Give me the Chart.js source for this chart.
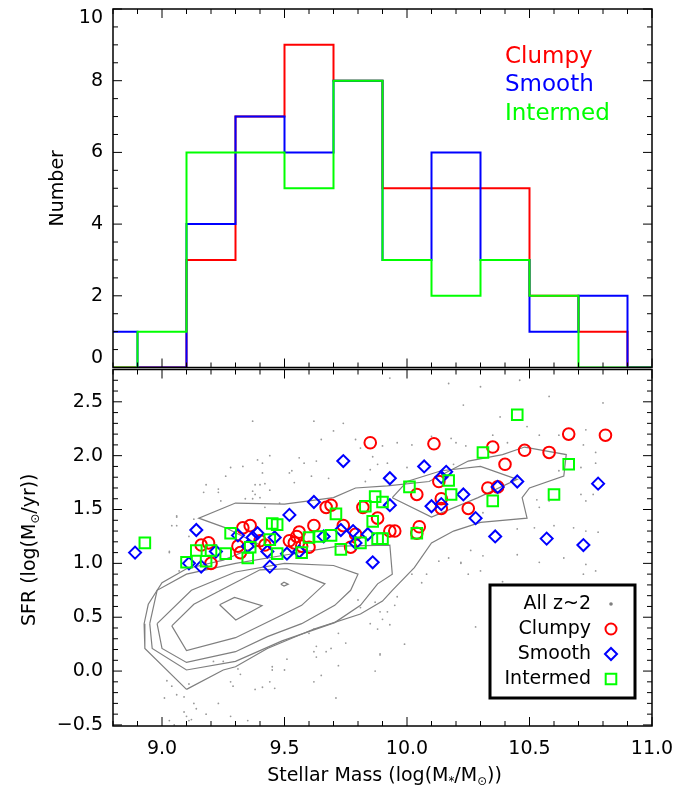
<!DOCTYPE html>
<html>
<head>
<meta charset="utf-8">
<script src="https://cdn.jsdelivr.net/npm/chart.js@4.4.1/dist/chart.umd.min.js"></script>
<style>
  body { margin: 0; background: #fff; }
  #wrap { position: relative; width: 691px; height: 790px; }
  canvas { position: absolute; left: 0; }
  #topChart { top: 0; }
  #botChart { top: 360px; }
</style>
</head>
<body>
<div id="wrap">
  <canvas id="topChart" width="691" height="376"></canvas>
  <canvas id="botChart" width="691" height="430"></canvas>
</div>
<script>
var FONT = '"DejaVu Sans", sans-serif';
var RED = '#ff0000', BLUE = '#0000ff', GREEN = '#00ff00', GREY = '#7f7f7f';

// ---- histogram (top panel) ----
var binEdges = [8.7, 8.9, 9.1, 9.3, 9.5, 9.7, 9.9, 10.1, 10.3, 10.5, 10.7, 10.9, 11.1];
var clumpyCounts   = [0, 0, 3, 7, 9, 8, 5, 5, 5, 2, 1, 0];
var smoothCounts   = [1, 0, 4, 7, 6, 8, 3, 6, 3, 1, 2, 0];
var intermedCounts = [0, 1, 6, 6, 5, 8, 3, 2, 3, 2, 0, 0];
var countTicks = [0, 2, 4, 6, 8, 10];

// ---- SFR vs mass (bottom panel) ----
var massTicks = [9.0, 9.5, 10.0, 10.5, 11.0];
var sfrTicks = [-0.5, 0.0, 0.5, 1.0, 1.5, 2.0, 2.5];

var clumpyPts = [
  [9.16,1.17],[9.19,1.19],[9.20,1.00],[9.31,1.16],[9.32,1.10],[9.33,1.33],[9.36,1.35],
  [9.40,1.21],[9.42,1.17],[9.52,1.21],[9.54,1.19],[9.55,1.25],[9.56,1.29],[9.57,1.16],
  [9.60,1.15],[9.62,1.35],[9.67,1.52],[9.69,1.54],[9.74,1.35],[9.77,1.15],[9.79,1.27],
  [9.82,1.52],[9.85,2.12],[9.88,1.42],[9.93,1.30],[9.95,1.30],[10.04,1.64],[10.05,1.34],
  [10.04,1.28],[10.11,2.11],[10.13,1.76],[10.14,1.60],[10.14,1.51],[10.25,1.51],
  [10.33,1.70],[10.37,1.71],[10.35,2.08],[10.40,1.92],[10.48,2.05],[10.58,2.03],
  [10.66,2.20],[10.81,2.19]
];
var smoothPts = [
  [8.89,1.10],[9.14,1.31],[9.11,1.00],[9.16,0.97],[9.22,1.11],[9.31,1.26],[9.35,1.16],
  [9.37,1.24],[9.39,1.28],[9.43,1.11],[9.44,0.97],[9.46,1.24],[9.52,1.45],[9.51,1.09],
  [9.56,1.11],[9.62,1.57],[9.66,1.25],[9.74,1.95],[9.73,1.31],[9.78,1.30],[9.79,1.19],
  [9.84,1.27],[9.86,1.01],[9.93,1.79],[9.93,1.54],[10.07,1.90],[10.14,1.80],[10.16,1.85],
  [10.23,1.64],[10.10,1.53],[10.14,1.55],[10.28,1.42],[10.37,1.71],[10.45,1.76],
  [10.78,1.74],[10.36,1.25],[10.57,1.23],[10.72,1.17]
];
var intermedPts = [
  [8.93,1.19],[9.10,1.01],[9.14,1.12],[9.18,1.02],[9.20,1.12],[9.26,1.09],[9.28,1.28],
  [9.35,1.05],[9.36,1.15],[9.45,1.37],[9.47,1.36],[9.44,1.22],[9.47,1.09],[9.57,1.10],
  [9.60,1.24],[9.64,1.25],[9.69,1.26],[9.71,1.46],[9.73,1.13],[9.81,1.19],[9.83,1.53],
  [9.86,1.39],[9.87,1.62],[9.90,1.57],[9.88,1.23],[9.90,1.23],[10.01,1.71],[10.04,1.28],
  [10.17,1.77],[10.18,1.64],[10.31,2.03],[10.35,1.58],[10.45,2.38],[10.60,1.64],[10.66,1.92]
];
var allPts = [
  [9.02,-0.09],[9.04,-0.14],[9.01,-0.25],[9.06,-0.22],[9.09,-0.24],[9.11,-0.12],[9.13,-0.30],
  [9.14,-0.35],[9.09,-0.38],[9.03,-0.46],[9.11,-0.46],[9.23,-0.30],[9.28,-0.42],[9.35,-0.46],
  [9.28,-0.10],[9.29,-0.14],[9.32,-0.03],[9.31,0.02],[9.21,0.09],[9.25,0.09],[9.38,-0.17],
  [9.41,-0.15],[9.46,-0.16],[9.44,-0.10],[9.45,0.01],[9.45,0.04],[9.50,0.01],[9.51,0.11],
  [9.62,-0.10],[9.65,-0.04],[9.63,0.23],[9.62,0.18],[9.63,0.13],[9.67,0.18],[9.69,0.21],
  [9.72,0.05],[9.71,-0.25],[9.75,0.26],[9.72,0.35],[9.60,0.35],[9.62,0.39],[9.85,0.44],
  [9.88,0.39],[9.93,0.43],[9.87,0.00],[9.89,0.15],[9.89,0.55],[9.92,0.55],[9.95,0.61],
  [9.96,0.69],[9.80,0.66],[9.81,0.59],[9.87,0.64],
  [9.44,2.00],[9.39,1.96],[9.41,1.93],[9.41,1.84],[9.38,1.73],[9.40,1.73],[9.42,1.74],
  [9.44,1.68],[9.37,1.67],[9.38,1.64],[9.26,1.81],[9.28,1.89],[9.17,1.66],[9.23,1.66],
  [9.24,1.58],[9.34,1.60],[9.37,1.60],[9.40,1.61],[9.42,1.52],[9.48,1.56],[9.52,1.84],
  [9.06,1.44],[9.04,1.35],[9.06,1.35],[9.03,1.11],[9.11,1.25],[9.13,1.41],[9.07,0.93],
  [10.23,2.47],[10.10,2.18],[10.18,2.16],[10.20,2.12],[10.24,2.09],[9.96,2.12],[10.02,2.10],
  [9.90,2.09],[9.81,2.07],[9.65,2.15],[9.79,2.15],[9.74,2.30],[9.70,2.23],[9.63,1.95],
  [9.58,1.93],[9.53,1.86],[9.54,1.75],[9.86,1.99],[9.88,1.92],[9.92,1.93],[10.00,1.89],
  [9.85,1.87],[9.83,1.76],[9.68,1.79],[9.61,1.81],[10.19,1.92],[10.13,1.02],[10.17,1.05],
  [10.22,1.00],[10.25,0.90],[10.08,0.90],[10.02,0.90],[10.06,0.82],
  [10.38,2.36],[10.49,2.27],[10.35,2.19],[10.41,2.12],[10.54,2.19],[10.62,2.19],[10.73,2.24],
  [10.72,2.10],[10.77,2.03],[10.77,1.93],[10.71,1.89],[10.62,1.86],[10.76,1.64],[10.71,1.64],
  [10.73,1.58],[10.58,1.58],[10.53,1.59],[10.54,1.52],[10.38,1.66],[10.31,1.47],[10.45,1.32],
  [10.52,1.33],[10.60,1.35],[10.68,1.33],[10.73,1.30],[10.78,1.29],[10.26,1.12],[10.31,1.07],
  [10.45,1.08],[10.54,1.01],[10.64,1.05],[10.73,0.99],[10.77,0.93],[10.30,0.93],[10.39,0.83],
  [10.72,0.90],
  [9.93,2.72],[10.30,2.64],[10.58,2.55],[10.80,2.49],[10.17,2.67],[10.46,2.70],[10.28,0.41],
  [9.90,0.48],[9.99,0.25],[9.89,0.16],[10.22,1.01],
  [9.37,2.32],[9.33,1.90],[9.18,1.73],[9.23,1.69],[9.62,2.32],[9.56,1.98],[9.06,1.43],[9.03,1.10],
  [9.10,-0.42],[9.12,-0.45],[9.18,-0.40],[9.05,-0.50]
];

// density contours of the full sample
var contour1 = [[9.10,-0.17],[9.25,0.01],[9.30,0.04],[9.43,0.21],[9.62,0.39],[9.81,0.53],[9.90,0.65],
  [9.94,0.75],[10.03,0.96],[10.10,1.19],[10.19,1.30],[10.30,1.38],[10.49,1.42],[10.47,1.61],
  [10.50,1.70],[10.64,1.81],[10.65,2.01],[10.48,2.08],[10.39,2.01],[10.25,1.95],[10.09,1.76],
  [9.92,1.72],[9.79,1.70],[9.70,1.61],[9.50,1.55],[9.30,1.56],[9.15,1.42],[9.26,1.33],
  [9.40,1.17],[9.25,1.03],[9.10,0.95],[9.00,0.82],[8.944,0.62],[8.927,0.44],[8.93,0.21],[9.10,-0.17]];
var contour2 = [[8.95,0.44],[8.96,0.21],[9.10,0.01],[9.30,0.09],[9.49,0.28],[9.705,0.45],[9.81,0.61],
  [9.88,0.81],[9.94,0.90],[9.93,1.17],[9.72,1.16],[9.51,1.08],[9.30,1.00],[9.10,0.90],[8.98,0.75],[8.95,0.44]];
var contour2b = [[9.94,1.61],[10.10,1.43],[10.29,1.61],[10.45,1.78],[10.30,1.90],[10.14,1.86],
  [10.00,1.76],[9.94,1.61]];
var contour3 = [[8.98,0.44],[9.00,0.21],[9.10,0.08],[9.30,0.18],[9.43,0.32],[9.57,0.44],[9.705,0.61],
  [9.77,0.75],[9.80,0.90],[9.70,0.98],[9.50,1.00],[9.30,0.92],[9.12,0.75],[8.98,0.44]];
var contour4 = [[9.04,0.42],[9.10,0.19],[9.30,0.31],[9.49,0.52],[9.57,0.61],[9.665,0.81],[9.51,0.95],
  [9.40,0.94],[9.13,0.62],[9.04,0.42]];
var contour5 = [[9.235,0.616],[9.296,0.684],[9.408,0.607],[9.301,0.475],[9.235,0.616]];
var contour6 = [[9.485,0.807],[9.498,0.825],[9.515,0.807],[9.498,0.79],[9.485,0.807]];
var contours = [contour1, contour2, contour2b, contour3, contour4, contour5, contour6];

function stepPoints(counts) {
  var pts = counts.map(function(c, i) { return {x: binEdges[i], y: c}; });
  pts.push({x: binEdges[counts.length], y: counts[counts.length - 1]});
  return pts;
}
function toXY(list) {
  return list.map(function(p) { return {x: p[0], y: p[1]}; });
}

function line(ctx, x1, y1, x2, y2) {
  ctx.beginPath(); ctx.moveTo(x1, y1); ctx.lineTo(x2, y2); ctx.stroke();
}

// text with simple subscripts, centred on (x, y)
function richText(ctx, parts, x, y, size, rotate) {
  ctx.save();
  ctx.translate(x, y);
  if (rotate) ctx.rotate(-Math.PI / 2);
  var w = 0;
  parts.forEach(function(p) {
    ctx.font = (p.sub ? size * 0.62 : size) + 'px ' + FONT;
    p.w = ctx.measureText(p.t).width;
    w += p.w;
  });
  var cx = -w / 2;
  ctx.fillStyle = '#000';
  ctx.textBaseline = 'middle';
  parts.forEach(function(p) {
    ctx.font = (p.sub ? size * 0.62 : size) + 'px ' + FONT;
    ctx.fillText(p.t, cx, p.sub ? size * 0.32 : 0);
    cx += p.w;
  });
  ctx.restore();
}

// IDL style frame with inward ticks on all four sides
function frameTicks(xMajor, xMinor, yMajor, yMinor) {
  return {
    id: 'frameTicks',
    afterDatasetsDraw: function(chart) {
      var a = chart.chartArea, ctx = chart.ctx;
      var xs = chart.scales.x, ys = chart.scales.y;
      ctx.save();
      ctx.strokeStyle = '#000';
      ctx.lineWidth = 1;
      var i, v, len, p;
      for (i = 0; ; i++) {
        v = xs.min + i * xMinor;
        if (v > xs.max + 1e-9) break;
        len = Math.abs(v / xMajor - Math.round(v / xMajor)) < 1e-6 ? 9 : 5;
        p = xs.getPixelForValue(v);
        line(ctx, p, a.bottom, p, a.bottom - len);
        line(ctx, p, a.top, p, a.top + len);
      }
      var start = Math.ceil(ys.min / yMinor - 1e-9);
      for (i = start; ; i++) {
        v = i * yMinor;
        if (v > ys.max + 1e-9) break;
        len = Math.abs(v / yMajor - Math.round(v / yMajor)) < 1e-6 ? 9 : 5;
        p = ys.getPixelForValue(v);
        line(ctx, a.left, p, a.left + len, p);
        line(ctx, a.right, p, a.right - len, p);
      }
      ctx.lineWidth = 1.5;
      ctx.strokeRect(a.left, a.top, a.right - a.left, a.bottom - a.top);
      ctx.restore();
    }
  };
}

var topDecor = {
  id: 'topDecor',
  afterDraw: function(chart) {
    var a = chart.chartArea, ctx = chart.ctx, ys = chart.scales.y;
    ctx.save();
    // y tick labels, kept inside the panel height
    ctx.font = '19px ' + FONT;
    ctx.fillStyle = '#000';
    ctx.textAlign = 'right';
    ctx.textBaseline = 'middle';
    countTicks.forEach(function(v) {
      var p = ys.getPixelForValue(v);
      p = Math.min(Math.max(p, a.top + 9), a.bottom - 9);
      ctx.fillText(String(v), a.left - 10, p);
    });
    // class labels
    ctx.font = '23px ' + FONT;
    ctx.textAlign = 'left';
    [['Clumpy', RED], ['Smooth', BLUE], ['Intermed', GREEN]].forEach(function(r, i) {
      ctx.fillStyle = r[1];
      ctx.fillText(r[0], a.left + 392, a.top + 48 + i * 28.5);
    });
    ctx.restore();
    richText(ctx, [{t: 'Number'}], a.left - 55, (a.top + a.bottom) / 2, 19, true);
  }
};

function marker(ctx, style, x, y, r, color) {
  ctx.save();
  ctx.strokeStyle = color;
  ctx.fillStyle = 'rgba(0,0,0,0)';
  ctx.lineWidth = 2;
  if (Chart.helpers && Chart.helpers.drawPoint) {
    Chart.helpers.drawPoint(ctx, {pointStyle: style, radius: r, rotation: 0, borderWidth: 2}, x, y);
  }
  ctx.restore();
}

var botDecor = {
  id: 'botDecor',
  afterDraw: function(chart) {
    var a = chart.chartArea, ctx = chart.ctx;
    // legend box
    var bx = a.right - 162, by = a.bottom - 141, bw = 145, bh = 113;
    ctx.save();
    ctx.fillStyle = '#fff';
    ctx.fillRect(bx, by, bw, bh);
    ctx.strokeStyle = '#000';
    ctx.lineWidth = 3;
    ctx.strokeRect(bx, by, bw, bh);
    ctx.font = '19px ' + FONT;
    ctx.fillStyle = '#000';
    ctx.textAlign = 'right';
    ctx.textBaseline = 'middle';
    var rows = ['All z~2', 'Clumpy', 'Smooth', 'Intermed'];
    rows.forEach(function(t, i) {
      ctx.fillText(t, bx + 101, by + 19 + i * 25);
    });
    ctx.fillStyle = GREY;
    ctx.beginPath();
    ctx.arc(bx + 121, by + 19, 1.8, 0, Math.PI * 2);
    ctx.fill();
    ctx.restore();
    marker(ctx, 'circle', bx + 121, by + 44, 5.5, RED);
    marker(ctx, 'rectRot', bx + 121, by + 69, 6, BLUE);
    marker(ctx, 'rect', bx + 121, by + 94, 7.5, GREEN);

    richText(ctx, [{t: 'SFR (log(M'}, {t: '\u2299', sub: true}, {t: '/yr))'}],
      a.left - 83, (a.top + a.bottom) / 2 + 2, 19, true);
    richText(ctx, [{t: 'Stellar Mass (log(M'}, {t: '*', sub: true}, {t: '/M'}, {t: '\u2299', sub: true}, {t: '))'}],
      (a.left + a.right) / 2 + 2, a.bottom + 50, 19, false);
  }
};

var noGrid = {display: false, drawTicks: false};

// top: histograms
var histSets = [
  {data: stepPoints(intermedCounts), borderColor: GREEN},
  {data: stepPoints(smoothCounts), borderColor: BLUE},
  {data: stepPoints(clumpyCounts), borderColor: RED}
].map(function(d) {
  d.stepped = true; d.pointRadius = 0; d.borderWidth = 2; d.fill = false;
  return d;
});

new Chart(document.getElementById('topChart'), {
  type: 'line',
  data: {datasets: histSets},
  options: {
    responsive: false,
    animation: false,
    layout: {padding: {left: 0, right: 39, top: 9, bottom: 8.5}},
    plugins: {legend: {display: false}, tooltip: {enabled: false}},
    scales: {
      x: {type: 'linear', min: 8.8, max: 11.0, display: false},
      y: {
        type: 'linear', min: 0, max: 10,
        grid: noGrid, border: {display: false},
        ticks: {display: false},
        afterFit: function(s) { s.width = 113; s.paddingTop = 0; s.paddingBottom = 0; }
      }
    }
  },
  plugins: [frameTicks(0.5, 0.1, 2, 0.5), topDecor]
});

// bottom: SFR vs stellar mass
var botSets = [
  {data: toXY(intermedPts), pointStyle: 'rect', pointRadius: 7.5, borderColor: GREEN},
  {data: toXY(smoothPts), pointStyle: 'rectRot', pointRadius: 6, borderColor: BLUE},
  {data: toXY(clumpyPts), pointStyle: 'circle', pointRadius: 5.8, borderColor: RED}
].map(function(d) {
  d.backgroundColor = 'rgba(0,0,0,0)'; d.borderWidth = 2; d.showLine = false;
  return d;
});
contours.forEach(function(c) {
  botSets.push({data: toXY(c), showLine: true, pointRadius: 0, borderColor: GREY,
    borderWidth: 1.2, fill: false, tension: 0});
});
botSets.push({data: toXY(allPts), pointRadius: 0.9, borderWidth: 0, backgroundColor: '#999999'});

new Chart(document.getElementById('botChart'), {
  type: 'scatter',
  data: {datasets: botSets},
  options: {
    responsive: false,
    animation: false,
    layout: {padding: {left: 0, right: 39, top: 7.5, bottom: 0}},
    plugins: {legend: {display: false}, tooltip: {enabled: false}},
    scales: {
      x: {
        type: 'linear', min: 8.8, max: 11.0,
        grid: noGrid, border: {display: false},
        afterBuildTicks: function(s) { s.ticks = massTicks.map(function(v) { return {value: v}; }); },
        ticks: {
          font: {family: FONT, size: 19}, color: '#000', padding: 12, maxRotation: 0, autoSkip: false,
          callback: function(v) { return Number(v).toFixed(1); }
        },
        afterFit: function(s) { s.height = 64; s.paddingLeft = 0; s.paddingRight = 0; }
      },
      y: {
        type: 'linear', min: -0.51, max: 2.80,
        grid: noGrid, border: {display: false},
        afterBuildTicks: function(s) { s.ticks = sfrTicks.map(function(v) { return {value: v}; }); },
        ticks: {
          font: {family: FONT, size: 19}, color: '#000', padding: 10, autoSkip: false,
          callback: function(v) { return (v < 0 ? '\u2212' : '') + Math.abs(v).toFixed(1); }
        },
        afterFit: function(s) { s.width = 113; s.paddingTop = 0; s.paddingBottom = 0; }
      }
    }
  },
  plugins: [frameTicks(0.5, 0.1, 0.5, 0.1), botDecor]
});
</script>
</body>
</html>
